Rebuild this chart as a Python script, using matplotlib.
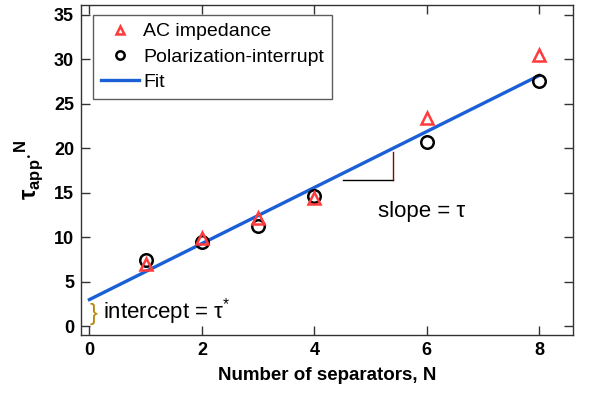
import matplotlib
matplotlib.use("Agg")
import matplotlib.pyplot as plt

plt.rcParams['font.family'] = ['Liberation Sans', 'DejaVu Sans']
plt.rcParams['mathtext.fontset'] = 'custom'
plt.rcParams['mathtext.rm'] = 'Liberation Sans'
plt.rcParams['mathtext.bf'] = 'Liberation Sans:bold'

# Data
n_ac = [1, 2, 3, 4, 6, 8]
tau_ac = [7.0, 9.9, 12.2, 14.4, 23.4, 30.5]
n_pi = [1, 2, 3, 4, 6, 8]
tau_pi = [7.4, 9.5, 11.3, 14.6, 20.7, 27.6]
fit_n = [0, 8]
fit_tau = [3.0, 28.2]
x_ticks = [0, 2, 4, 6, 8]
y_ticks = [0, 5, 10, 15, 20, 25, 30, 35]

fig = plt.figure(figsize=(6.0, 3.99), dpi=100)
ax = fig.add_axes([0.135, 0.160, 0.820, 0.827])

ax.plot(fit_n, fit_tau, color='#1a5fd6', lw=2.4, label='Fit', zorder=2)
ax.plot(n_ac, tau_ac, ls='none', marker='^', ms=9, mfc='none', mec='#ff3b3b',
        mew=1.8, label='AC impedance', zorder=4)
ax.plot(n_pi, tau_pi, ls='none', marker='o', ms=9, mfc='none', mec='black',
        mew=1.8, label='Polarization-interrupt', zorder=3)

# slope triangle
ax.plot([4.51, 5.40], [16.5, 16.5], color='black', lw=1.0)
ax.plot([5.40, 5.40], [16.5, 19.6], color='#8b0000', lw=1.0)
ax.text(5.13, 12.9, 'slope = τ', fontsize=16, va='center', ha='left')

# intercept annotation
ax.text(0.0, 1.4, '}', fontsize=17, va='center', ha='left', color='#b8860b')
ax.text(0.25, 1.7, 'intercept = τ$^{*}$', fontsize=16, va='center', ha='left')

ax.set_xlim(-0.15, 8.6)
ax.set_ylim(-1.0, 36.1)
ax.set_xticks(x_ticks)
ax.set_yticks(y_ticks)
ax.tick_params(direction='in', length=6.5, width=1.0, top=True, right=True,
               labelsize=13, pad=5, color='#333333')
for lab in ax.get_xticklabels() + ax.get_yticklabels():
    lab.set_fontweight('bold')
for s in ax.spines.values():
    s.set_color('#333333')
    s.set_linewidth(1.0)

ax.set_xlabel('Number of separators, N', fontsize=13.5, fontweight='bold', labelpad=6)
ax.set_ylabel(r'$\mathbf{\tau}_{\mathbf{app}}{\cdot}^{\mathbf{N}}$', fontsize=17, labelpad=6)

handles, labels = ax.get_legend_handles_labels()
order = [1, 2, 0]
leg = ax.legend([handles[i] for i in order], [labels[i] for i in order],
                loc='upper left', bbox_to_anchor=(0.024, 0.97), fontsize=14,
                frameon=True, fancybox=False, edgecolor='#333333',
                handlelength=2.0, borderpad=0.4, labelspacing=0.4, handletextpad=0.2,
                borderaxespad=0)
leg.get_frame().set_linewidth(1.0)
for h in leg.legend_handles:
    try:
        h.set_markersize(6)
    except Exception:
        pass

fig.savefig('out.png', dpi=100)
